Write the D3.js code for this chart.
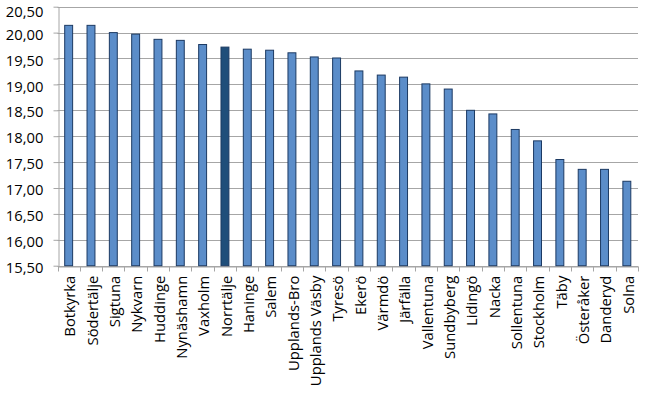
<!DOCTYPE html>
<html><head><meta charset="utf-8">
<script src="https://cdn.jsdelivr.net/npm/d3@7"></script>
<style>body{margin:0;background:#fff}svg{display:block}</style>
</head><body>
<script>
const categories = ["Botkyrka","Södertälje","Sigtuna","Nykvarn","Huddinge","Nynäshamn","Vaxholm","Norrtälje","Haninge","Salem","Upplands-Bro","Upplands Väsby","Tyresö","Ekerö","Värmdö","Järfälla","Vallentuna","Sundbyberg","Lidingö","Nacka","Sollentuna","Stockholm","Täby","Österåker","Danderyd","Solna"];
const values = [20.14,20.14,20.00,19.97,19.87,19.85,19.77,19.72,19.68,19.66,19.61,19.53,19.51,19.26,19.18,19.14,19.01,18.91,18.50,18.43,18.13,17.91,17.55,17.36,17.36,17.13];
const highlighted = ["Norrtälje"];
const yTicks = [15.5,16,16.5,17,17.5,18,18.5,19,19.5,20,20.5];

const W = 645, H = 393;
const m = {left:57.5, right:7, top:6.7, bottom:127.3};
const svg = d3.select("body").append("svg").attr("width",W).attr("height",H);
const x = d3.scaleBand().domain(categories).range([m.left, W-m.right]).paddingInner(0.6).paddingOuter(0.3);
const y = d3.scaleLinear().domain([15.5,20.5]).range([H-m.bottom, m.top]);
const font = "'Open Sans', sans-serif";
const fs = 14.8;

// gridlines
svg.append("g").selectAll("line").data(yTicks).join("line")
  .attr("x1", m.left).attr("x2", W-m.right)
  .attr("y1", d=>Math.round(y(d))+0.5).attr("y2", d=>Math.round(y(d))+0.5)
  .attr("stroke","#a6a6a6").attr("stroke-width",1);

// y axis
const ya = svg.append("g").attr("transform",`translate(${Math.round(m.left)+0.5},0)`)
  .call(d3.axisLeft(y).tickValues(yTicks).tickSize(5).tickSizeOuter(0).tickPadding(10)
    .tickFormat(d=>d3.format(".2f")(d).replace(".",",")));
ya.selectAll("path,line").attr("stroke","#a6a6a6");
ya.selectAll("text").attr("font-family",font).attr("font-size",fs).attr("fill","#000")
  .attr("dy", d => { const base = y(d) + 0.45*fs; return base < 16 ? (0.45*fs + 16 - base) + "px" : (0.45*fs) + "px"; });

// x axis
const xa = svg.append("g").attr("transform",`translate(0,${Math.round(y(15.5))+0.5})`)
  .call(d3.axisBottom(x).tickSize(0).tickSizeOuter(0));
xa.select("path").attr("stroke","#a6a6a6");
xa.selectAll(".tick text").remove();
const bounds = categories.map((c,i)=> x(c) - x.step()*x.paddingInner()/2);
bounds.push(x(categories[categories.length-1]) + x.bandwidth() + x.step()*x.paddingInner()/2);
xa.append("g").selectAll("line").data(bounds).join("line")
  .attr("x1",d=>Math.round(d)+0.5).attr("x2",d=>Math.round(d)+0.5).attr("y1",0).attr("y2",5)
  .attr("stroke","#a6a6a6");
svg.append("g").selectAll("text").data(categories).join("text")
  .attr("transform", d=>`translate(${x(d)+x.bandwidth()/2+1.5},${y(15.5)+10}) rotate(-90)`)
  .attr("text-anchor","end").attr("dy","0.35em")
  .attr("font-family",font).attr("font-size",fs).attr("fill","#000")
  .text(d=>d);

// bars
svg.append("g").selectAll("rect").data(values).join("rect")
  .attr("x",(d,i)=>x(categories[i])+0.5)
  .attr("width",x.bandwidth()-1)
  .attr("y",d=>y(d))
  .attr("height",d=>y(15.5)-y(d))
  .attr("fill",(d,i)=>highlighted.includes(categories[i])?"#1f4e7a":"#5b8dc9")
  .attr("stroke","#1c3a63").attr("stroke-width",1);
</script>
</body></html>
